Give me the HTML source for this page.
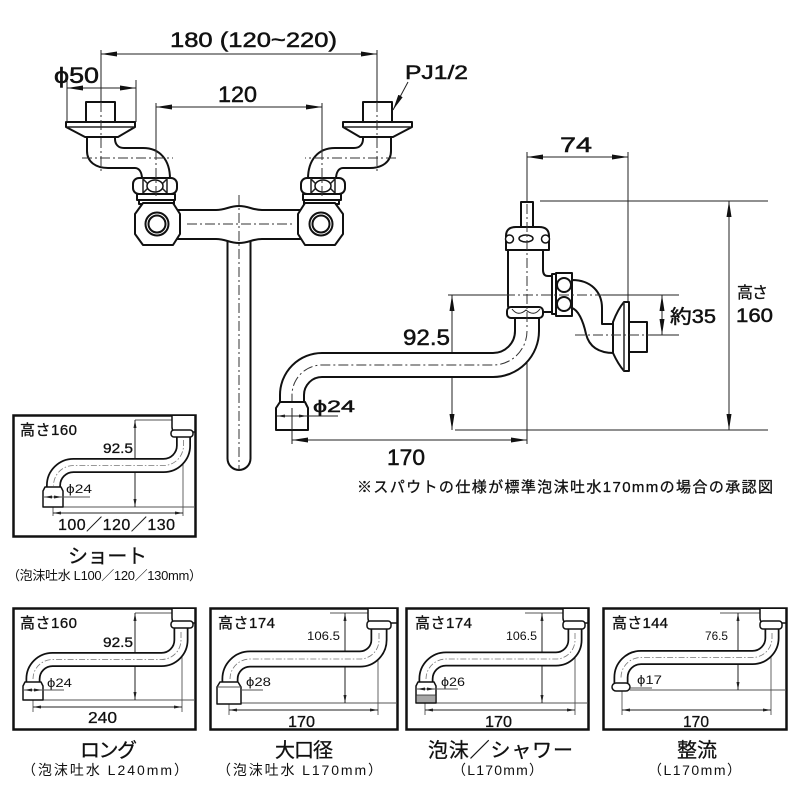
<!DOCTYPE html>
<html><head><meta charset="utf-8"><style>
html,body{margin:0;padding:0;background:#fff;}
svg{display:block;}
.o{fill:#fff;stroke:#111;stroke-width:2;stroke-linejoin:round}
.o2{fill:#fff;stroke:#111;stroke-width:1.5;stroke-linejoin:round}
.t{stroke:#222;stroke-width:1;fill:none}
.g{stroke:#555;stroke-width:0.9;fill:none}
.c{stroke:#333;stroke-width:1;fill:none;stroke-dasharray:10 3 2 3}
.cs{stroke:#777;stroke-width:0.8;fill:none;stroke-dasharray:6 2 1.5 2}
text{font-family:"Liberation Sans","Noto Sans CJK JP",sans-serif;fill:#111}
.b{stroke:#111;stroke-width:0.5}
.bs{stroke:#111;stroke-width:0.3}
</style></head><body>
<svg xmlns="http://www.w3.org/2000/svg" width="800" height="800" viewBox="0 0 800 800">
<defs>
<marker id="A" viewBox="0 0 16 5" refX="16" refY="2.5" markerWidth="16" markerHeight="5" markerUnits="userSpaceOnUse" orient="auto-start-reverse"><path d="M0,0L16,2.5L0,5z" fill="#111"/></marker>
<marker id="S" viewBox="0 0 8 3" refX="8" refY="1.5" markerWidth="8" markerHeight="3" markerUnits="userSpaceOnUse" orient="auto-start-reverse"><path d="M0,0L8,1.5L0,3z" fill="#222"/></marker>
</defs>
<rect width="800" height="800" fill="#fff"/>

<!-- ===== TOP VIEW ===== -->
<path class="o" d="M227.5,236 L227.5,458.5 A11.5,11.5 0 0 0 250.5,458.5 L250.5,236 Z"/>
<path class="o" d="M175,210 L216,210 C226,210 229,206 239,206 C249,206 252,210 262,210 L303,210 L303,239 L262,239 C252,239 249,243 239,243 C229,243 226,239 216,239 L175,239 Z"/>

<g id="fit">
  <line class="t" x1="101" y1="50" x2="101" y2="102"/>
  <line class="t" x1="156" y1="103" x2="156" y2="150"/>
  <path class="o" d="M87,135 L87,151 C87,162 96,168 108,168 L135,168 C139,168 142,172 142,179 L170,179 C170,160 160,148 143,148 L124,148 C118,148 115,144 115,139 L115,135 Z"/>
  <path class="o" d="M66,122 L135,122 L135,127 L118,137 L85,137 L66,127 Z"/>
  <line class="t" x1="67" y1="127" x2="134" y2="127" style="stroke-width:1.5"/>
  <rect class="o" x="86" y="102" width="29" height="20"/>
  <rect class="o" x="133" y="178" width="44" height="16" rx="6"/>
  <path class="t" style="stroke-width:1.5" d="M143,178 L143,194 M167,178 L167,194 M143,179 L150,186 L143,193 M167,179 L160,186 L167,193"/>
  <ellipse class="o2" cx="155" cy="186" rx="8" ry="6"/>
  <rect class="o" x="137" y="194" width="38" height="6"/>
  <rect class="o" x="139" y="200" width="35" height="4"/>
  <polygon class="o" points="143,203 173,203 180,214 180,234 173,245 143,245 135,234 135,214"/>
  <circle class="o" cx="157" cy="224" r="11.5"/>
  <circle class="o" cx="157" cy="224" r="8.5"/>
  <line class="c" x1="101" y1="102" x2="101" y2="172"/>
  <line class="c" x1="82" y1="158" x2="173" y2="158"/>
  <line class="c" x1="156" y1="150" x2="156" y2="197"/>
</g>
<use href="#fit" transform="matrix(-1 0 0 1 478 0)"/>
<line class="c" x1="239" y1="195" x2="239" y2="470"/>
<line class="c" x1="187" y1="224" x2="293" y2="224"/>

<!-- top dims -->
<line class="t" x1="101" y1="54" x2="377" y2="54" marker-start="url(#A)" marker-end="url(#A)"/>
<line class="t" x1="67" y1="88" x2="136" y2="88" marker-start="url(#A)" marker-end="url(#A)"/>
<line class="t" x1="67" y1="80" x2="67" y2="122"/>
<line class="t" x1="136" y1="80" x2="136" y2="122"/>
<line class="t" x1="156" y1="107" x2="322" y2="107" marker-start="url(#A)" marker-end="url(#A)"/>
<line class="t" x1="408" y1="82" x2="393" y2="110" marker-end="url(#A)"/>
<text class="b" x="170" y="47" font-size="21" textLength="167" lengthAdjust="spacingAndGlyphs">180 (120~220)</text>
<text class="b" x="54" y="83" font-size="22" textLength="45" lengthAdjust="spacingAndGlyphs">ϕ50</text>
<text class="b" x="218" y="102" font-size="22" textLength="39" lengthAdjust="spacingAndGlyphs">120</text>
<text class="b" x="405" y="79" font-size="19" textLength="63" lengthAdjust="spacingAndGlyphs">PJ1/2</text>

<!-- ===== SIDE VIEW ===== -->
<line class="t" x1="527" y1="152" x2="527" y2="202"/>
<line class="t" x1="628" y1="152" x2="628" y2="372"/>
<line class="t" x1="527" y1="157" x2="628" y2="157" marker-start="url(#A)" marker-end="url(#A)"/>
<line class="t" x1="540" y1="201" x2="768" y2="201"/>
<line class="t" x1="455" y1="430" x2="768" y2="430"/>
<line class="t" x1="729" y1="201" x2="729" y2="430" marker-start="url(#A)" marker-end="url(#A)"/>
<line class="t" x1="448" y1="295" x2="505" y2="295"/>
<line class="t" x1="603" y1="295" x2="679" y2="295"/>
<line class="t" x1="650" y1="335" x2="679" y2="335"/>
<line class="t" x1="662" y1="295" x2="662" y2="335" marker-start="url(#A)" marker-end="url(#A)"/>
<line class="t" x1="452" y1="295" x2="452" y2="430" marker-start="url(#A)" marker-end="url(#A)"/>
<line class="t" x1="527" y1="330" x2="527" y2="444"/>
<line class="t" x1="292" y1="416" x2="292" y2="444"/>
<line class="t" x1="292" y1="440" x2="527" y2="440" marker-start="url(#A)" marker-end="url(#A)"/>

<!-- spout -->
<path d="M527,316 L527,331 A34,34 0 0 1 493,365 L322,365 A30,30 0 0 0 292,395 L292,403" fill="none" stroke="#111" stroke-width="26"/>
<path d="M527,315 L527,331 A34,34 0 0 1 493,365 L322,365 A30,30 0 0 0 292,395 L292,404" fill="none" stroke="#fff" stroke-width="22"/>
<path class="c" d="M527,331 A34,34 0 0 1 493,365 L322,365 A30,30 0 0 0 292,395 L292,403"/>
<path class="o" d="M280,402 L305,402 L308,408 L308,430 L276,430 L276,408 Z"/>
<line class="t" x1="292" y1="408" x2="292" y2="430"/>
<line class="t" x1="277" y1="416" x2="307" y2="416" marker-start="url(#S)" marker-end="url(#S)"/>
<line class="t" x1="307" y1="416" x2="338" y2="416"/>

<!-- faucet body -->
<rect class="o" x="521" y="202" width="12" height="26"/>
<path class="o" d="M508,248 L508,305 Q508,312 516,312 L552,312 L552,276 L548,276 Q543,276 543,270 L543,248 Z"/>
<rect class="o" x="552" y="274" width="4" height="40"/>
<rect class="o" x="556" y="273" width="16" height="43"/>
<circle class="o" cx="564" cy="285" r="7"/>
<circle class="o" cx="564" cy="304" r="7"/>
<path class="o" d="M506,250 L506,236 Q506,227 516,227 L539,227 Q549,227 549,236 L549,250 Z"/>
<circle class="o2" cx="509.5" cy="239" r="4"/>
<circle class="o2" cx="545.5" cy="239" r="4"/>
<ellipse class="o2" cx="526" cy="238.5" rx="7" ry="3.5"/>
<rect class="o" x="507" y="307" width="36" height="11" rx="4"/>
<path class="t" d="M512,309 Q518,317 526,310 Q534,317 540,309"/>
<!-- elbow -->
<path class="o" d="M572,280 C591,280 602,292 602,308 L602,324 L614,324 L614,353 C598,353 589,346 586,334 C583,320 578,310 572,308 Z"/>
<path class="o" d="M613,322 Q618,309 624,302 L629,302 L629,371 L624,371 Q618,364 613,353 Z"/>
<line class="t" x1="624" y1="302" x2="624" y2="371" style="stroke-width:1.5"/>
<rect class="o" x="629" y="322" width="18" height="30"/>
<line class="c" x1="527" y1="204" x2="527" y2="330"/>
<line class="c" x1="505" y1="295" x2="603" y2="295"/>
<line class="c" x1="575" y1="335" x2="650" y2="335"/>

<text class="b" x="560" y="152" font-size="21" textLength="32" lengthAdjust="spacingAndGlyphs">74</text>
<text class="bs" x="737" y="298" font-size="16" textLength="31">高さ</text>
<text class="b" x="736" y="322" font-size="19" textLength="37" lengthAdjust="spacingAndGlyphs">160</text>
<text class="b" x="670" y="323" font-size="19" textLength="46" lengthAdjust="spacingAndGlyphs">約35</text>
<text class="b" x="403" y="345" font-size="22" textLength="47" lengthAdjust="spacingAndGlyphs">92.5</text>
<text class="b" x="313" y="412" font-size="17" textLength="42" lengthAdjust="spacingAndGlyphs">ϕ24</text>
<text class="b" x="387" y="465" font-size="22" textLength="38" lengthAdjust="spacingAndGlyphs">170</text>
<text class="bs" x="357" y="492" font-size="15" textLength="416">※スパウトの仕様が標準泡沫吐水170mmの場合の承認図</text>

<!-- ===== SHORT PANEL ===== -->
<rect x="13.5" y="415.5" width="182" height="121" fill="none" stroke="#111" stroke-width="2.5"/>
<line class="g" x1="135" y1="420" x2="195" y2="420"/>
<line class="g" x1="63" y1="507" x2="195" y2="507"/>
<line class="g" x1="183" y1="437" x2="183" y2="516"/>
<line class="g" x1="53" y1="497" x2="53" y2="516"/>
<line class="t" x1="135" y1="420" x2="135" y2="507" marker-start="url(#S)" marker-end="url(#S)"/>
<line class="t" x1="53" y1="513" x2="183" y2="513" marker-start="url(#S)" marker-end="url(#S)"/>
<path d="M183.5,436 L183.5,445 A20,20 0 0 1 163.5,465.5 L73.5,465.5 A20,20 0 0 0 53.5,485.5 L53.5,488" fill="none" stroke="#111" stroke-width="15"/>
<path d="M183.5,435 L183.5,445 A20,20 0 0 1 163.5,465.5 L73.5,465.5 A20,20 0 0 0 53.5,485.5 L53.5,489" fill="none" stroke="#fff" stroke-width="11.5"/>
<path class="cs" d="M183.5,440 L183.5,445 A20,20 0 0 1 163.5,465.5 L73.5,465.5 A20,20 0 0 0 53.5,485.5"/>
<path class="o2" d="M172,416 L172,427 Q172,432 177,432 L195,432 L195,416"/>
<rect class="o2" x="171" y="430" width="22" height="7" rx="3"/>
<path class="o2" d="M45,487 L61,487 L63,491 L63,507 L43,507 L43,491 Z"/>
<line class="t" x1="44" y1="497" x2="62" y2="497" marker-start="url(#S)" marker-end="url(#S)" style="stroke-width:0.8"/>
<line class="g" x1="62" y1="497" x2="90" y2="497"/>
<text class="bs" x="20" y="435" font-size="15" textLength="57">高さ160</text>
<text class="bs" x="103" y="453" font-size="14" textLength="30" lengthAdjust="spacingAndGlyphs">92.5</text>
<text x="66" y="493" font-size="12" textLength="26" lengthAdjust="spacingAndGlyphs">ϕ24</text>
<text class="bs" x="58" y="530" font-size="16" textLength="117">100／120／130</text>
<text class="bs" x="68" y="563" font-size="20" textLength="79">ショート</text>
<text x="7" y="580" font-size="13" textLength="195">（泡沫吐水 L100／120／130mm）</text>

<!-- ===== LONG PANEL ===== -->
<rect x="13.5" y="608.5" width="182" height="121" fill="none" stroke="#111" stroke-width="2.5"/>
<line class="g" x1="135" y1="613" x2="195" y2="613"/>
<line class="g" x1="43" y1="700" x2="195" y2="700"/>
<line class="g" x1="182" y1="628" x2="182" y2="712"/>
<line class="g" x1="33" y1="690" x2="33" y2="712"/>
<line class="t" x1="135" y1="613" x2="135" y2="700" marker-start="url(#S)" marker-end="url(#S)"/>
<line class="t" x1="33" y1="707" x2="182" y2="707" marker-start="url(#S)" marker-end="url(#S)"/>
<path d="M181,627 L181,640 A19.5,19.5 0 0 1 161.5,659.5 L52.5,659.5 A19.5,19.5 0 0 0 33,679 L33,683" fill="none" stroke="#111" stroke-width="15"/>
<path d="M181,626 L181,640 A19.5,19.5 0 0 1 161.5,659.5 L52.5,659.5 A19.5,19.5 0 0 0 33,679 L33,684" fill="none" stroke="#fff" stroke-width="11.5"/>
<path class="cs" d="M181,632 L181,640 A19.5,19.5 0 0 1 161.5,659.5 L52.5,659.5 A19.5,19.5 0 0 0 33,679"/>
<path class="o2" d="M172,609 L172,618 Q172,623 177,623 L195,623 L195,609"/>
<rect class="o2" x="171" y="621" width="22" height="7" rx="3"/>
<path class="o2" d="M25,682 L41,682 L43,686 L43,700 L23,700 L23,686 Z"/>
<line class="t" x1="24" y1="690" x2="42" y2="690" marker-start="url(#S)" marker-end="url(#S)" style="stroke-width:0.8"/>
<line class="g" x1="42" y1="690" x2="64" y2="690"/>
<text class="bs" x="20" y="628" font-size="15" textLength="57">高さ160</text>
<text class="bs" x="103" y="647" font-size="14" textLength="30" lengthAdjust="spacingAndGlyphs">92.5</text>
<text x="47" y="687" font-size="12" textLength="25" lengthAdjust="spacingAndGlyphs">ϕ24</text>
<text class="bs" x="88" y="723" font-size="16" textLength="29" lengthAdjust="spacingAndGlyphs">240</text>
<text class="bs" x="80" y="757" font-size="20" textLength="57">ロング</text>
<text x="22" y="775" font-size="14" textLength="166">（泡沫吐水 L240mm）</text>

<!-- ===== 大口径 PANEL ===== -->
<rect x="210.5" y="608.5" width="187" height="121" fill="none" stroke="#111" stroke-width="2.5"/>
<line class="g" x1="330" y1="613" x2="397" y2="613"/>
<line class="g" x1="241" y1="703" x2="397" y2="703"/>
<line class="g" x1="378" y1="629" x2="378" y2="715"/>
<line class="g" x1="229" y1="692" x2="229" y2="715"/>
<line class="t" x1="345" y1="613" x2="345" y2="703" marker-start="url(#S)" marker-end="url(#S)"/>
<line class="t" x1="229" y1="710" x2="378" y2="710" marker-start="url(#S)" marker-end="url(#S)"/>
<path d="M379,628 L379,640 A19,19 0 0 1 360,659 L250,659 A20,20 0 0 0 230,679 L230,683" fill="none" stroke="#111" stroke-width="17"/>
<path d="M379,627 L379,640 A19,19 0 0 1 360,659 L250,659 A20,20 0 0 0 230,679 L230,684" fill="none" stroke="#fff" stroke-width="13.5"/>
<path class="cs" d="M379,633 L379,640 A19,19 0 0 1 360,659 L250,659 A20,20 0 0 0 230,679"/>
<path class="o2" d="M368,609 L368,618 Q368,623 373,623 L397,623 L397,609"/>
<rect class="o2" x="367" y="621" width="24" height="8" rx="3"/>
<path class="o2" d="M220,682 L238,682 L241,687 L241,704 L217,704 L217,687 Z"/>
<line class="g" x1="217" y1="687" x2="241" y2="687"/>
<line class="g" x1="241" y1="690" x2="263" y2="690"/>
<text class="bs" x="218" y="628" font-size="15" textLength="57">高さ174</text>
<text x="307" y="640" font-size="12" textLength="33" lengthAdjust="spacingAndGlyphs">106.5</text>
<text x="246" y="686" font-size="12" textLength="25" lengthAdjust="spacingAndGlyphs">ϕ28</text>
<text class="bs" x="288" y="727" font-size="16" textLength="27" lengthAdjust="spacingAndGlyphs">170</text>
<text class="bs" x="275" y="757" font-size="20" textLength="58">大口径</text>
<text x="217" y="775" font-size="14" textLength="165">（泡沫吐水 L170mm）</text>

<!-- ===== 泡沫/シャワー PANEL ===== -->
<rect x="406.5" y="608.5" width="182" height="121" fill="none" stroke="#111" stroke-width="2.5"/>
<line class="g" x1="525" y1="613" x2="588" y2="613"/>
<line class="g" x1="436" y1="703" x2="588" y2="703"/>
<line class="g" x1="575" y1="629" x2="575" y2="715"/>
<line class="g" x1="425" y1="692" x2="425" y2="715"/>
<line class="t" x1="542" y1="613" x2="542" y2="703" marker-start="url(#S)" marker-end="url(#S)"/>
<line class="t" x1="425" y1="710" x2="575" y2="710" marker-start="url(#S)" marker-end="url(#S)"/>
<path d="M575,628 L575,640 A19,19 0 0 1 556,659 L446,659 A20,20 0 0 0 426,679 L426,683" fill="none" stroke="#111" stroke-width="15"/>
<path d="M575,627 L575,640 A19,19 0 0 1 556,659 L446,659 A20,20 0 0 0 426,679 L426,684" fill="none" stroke="#fff" stroke-width="11.5"/>
<path class="cs" d="M575,633 L575,640 A19,19 0 0 1 556,659 L446,659 A20,20 0 0 0 426,679"/>
<path class="o2" d="M563,609 L563,618 Q563,623 568,623 L588,623 L588,609"/>
<rect class="o2" x="563" y="621" width="22" height="8" rx="3"/>
<path class="o2" d="M418,682 L434,682 L436,686 L436,703 L416,703 L416,686 Z"/>
<path class="t" style="stroke-width:0.8" d="M416,695 L436,695 M418,695 V703 M420,695 V703 M422,695 V703 M424,695 V703 M426,695 V703 M428,695 V703 M430,695 V703 M432,695 V703 M434,695 V703"/>
<line class="t" x1="417" y1="689" x2="435" y2="689" marker-start="url(#S)" marker-end="url(#S)" style="stroke-width:0.8"/>
<line class="g" x1="435" y1="689" x2="458" y2="689"/>
<text class="bs" x="415" y="628" font-size="15" textLength="57">高さ174</text>
<text x="506" y="640" font-size="12" textLength="31" lengthAdjust="spacingAndGlyphs">106.5</text>
<text x="441" y="686" font-size="12" textLength="24" lengthAdjust="spacingAndGlyphs">ϕ26</text>
<text class="bs" x="485" y="727" font-size="16" textLength="27" lengthAdjust="spacingAndGlyphs">170</text>
<text class="bs" x="428" y="757" font-size="20" textLength="145">泡沫／シャワー</text>
<text x="452" y="775" font-size="14" textLength="91">（L170mm）</text>

<!-- ===== 整流 PANEL ===== -->
<rect x="603.5" y="608.5" width="183" height="121" fill="none" stroke="#111" stroke-width="2.5"/>
<line class="g" x1="720" y1="613" x2="786" y2="613"/>
<line class="g" x1="630" y1="690" x2="786" y2="690"/>
<line class="g" x1="771" y1="629" x2="771" y2="715"/>
<line class="g" x1="622" y1="690" x2="622" y2="715"/>
<line class="t" x1="738" y1="613" x2="738" y2="690" marker-start="url(#S)" marker-end="url(#S)"/>
<line class="t" x1="622" y1="710" x2="771" y2="710" marker-start="url(#S)" marker-end="url(#S)"/>
<path d="M772,628 L772,638 A19.5,19.5 0 0 1 752.5,657.5 L641,657.5 A20,20 0 0 0 621,677.5 L621,685" fill="none" stroke="#111" stroke-width="15"/>
<path d="M772,627 L772,638 A19.5,19.5 0 0 1 752.5,657.5 L641,657.5 A20,20 0 0 0 621,677.5 L621,686" fill="none" stroke="#fff" stroke-width="11.5"/>
<path class="cs" d="M772,633 L772,638 A19.5,19.5 0 0 1 752.5,657.5 L641,657.5 A20,20 0 0 0 621,677.5"/>
<path class="o2" d="M760,609 L760,618 Q760,623 765,623 L786,623 L786,609"/>
<rect class="o2" x="760" y="621" width="22" height="8" rx="3"/>
<rect class="o2" x="612" y="683" width="18" height="8" rx="4"/>
<line class="g" x1="630" y1="688" x2="652" y2="688"/>
<text class="bs" x="612" y="628" font-size="15" textLength="56">高さ144</text>
<text x="705" y="640" font-size="12" textLength="23" lengthAdjust="spacingAndGlyphs">76.5</text>
<text x="637" y="684" font-size="12" textLength="25" lengthAdjust="spacingAndGlyphs">ϕ17</text>
<text class="bs" x="683" y="727" font-size="16" textLength="26" lengthAdjust="spacingAndGlyphs">170</text>
<text class="bs" x="677" y="757" font-size="20" textLength="40">整流</text>
<text x="648" y="775" font-size="14" textLength="93">（L170mm）</text>
</svg>
</body></html>
